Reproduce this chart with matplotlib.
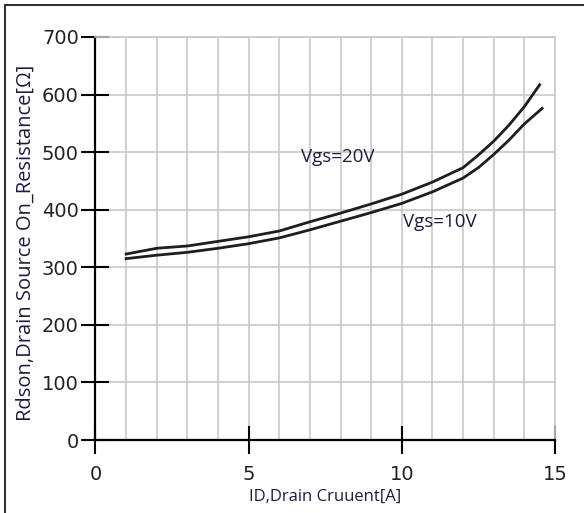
import matplotlib.pyplot as plt
from matplotlib.lines import Line2D

# Drain current [A]
id_pts = [1, 2, 3, 4, 5, 6, 7, 8, 9, 10, 11, 12, 12.5, 13, 13.5, 14, 14.5]
# Rdson [ohm]
rds_20v = [323, 333, 337, 345, 353, 363, 379, 394, 410, 427, 448, 473, 495, 519, 547, 579, 617]
rds_10v = [315, 321, 326, 333, 341, 351, 365, 380, 395, 411, 431, 455, 473, 496, 521, 549, 576]
id_end_10v = 14.58

x_ticks = [0, 5, 10, 15]
y_ticks = [0, 100, 200, 300, 400, 500, 600, 700]

label_color = '#1c1c40'

fig = plt.figure(figsize=(5.84, 5.13), dpi=100)
ax = fig.add_axes([0.1635, 0.1423, 0.7868, 0.7856])

# grid every 1 A / 100 ohm
ax.set_xticks(range(0, 16), minor=True)
ax.grid(which='both', color='#c8c8c8', linewidth=1.2)
ax.set_axisbelow(True)

ax.plot(id_pts, rds_20v, color='#1e1e1e', linewidth=2)
ax.plot(id_pts[:-1] + [id_end_10v], rds_10v, color='#1e1e1e', linewidth=2)

ax.text(6.72, 491, 'Vgs=20V', fontsize=13.5, family='Open Sans',
        color=label_color, va='center', ha='left')
ax.text(10.05, 378, 'Vgs=10V', fontsize=13.5, family='Open Sans',
        color=label_color, va='center', ha='left')

ax.set_xlim(0, 15)
ax.set_ylim(0, 700)
ax.set_xticks(x_ticks)
ax.set_yticks(y_ticks)
ax.tick_params(which='minor', length=0)
ax.tick_params(which='major', direction='inout', length=20, width=1.5,
               labelsize=14, pad=2, labelcolor='#222222')
ax.tick_params(axis='x', pad=8)

for s in ['left', 'bottom']:
    ax.spines[s].set_color('black')
    ax.spines[s].set_linewidth(1.6)
for s in ['top', 'right']:
    ax.spines[s].set_color('#c8c8c8')
    ax.spines[s].set_linewidth(1.2)

fig.text(325 / 584, 1 - 497 / 513, 'ID,Drain Cruuent[A]', fontsize=12,
         family='Open Sans', color=label_color, ha='center', va='center')
fig.text(26 / 584, 1 - 243 / 513, 'Rdson,Drain Source On_Resistance[Ω]',
         fontsize=14.5, family=['Open Sans', 'DejaVu Sans'], color=label_color,
         rotation=90, ha='center', va='center')

# outer frame (top and left edges visible)
fig.add_artist(Line2D([5 / 584, 5 / 584], [0, 1 - 5 / 513], color='#333333',
                      linewidth=1.5, transform=fig.transFigure))
fig.add_artist(Line2D([5 / 584, 1], [1 - 5 / 513, 1 - 5 / 513], color='#333333',
                      linewidth=1.5, transform=fig.transFigure))

fig.savefig('out.png', dpi=100)
